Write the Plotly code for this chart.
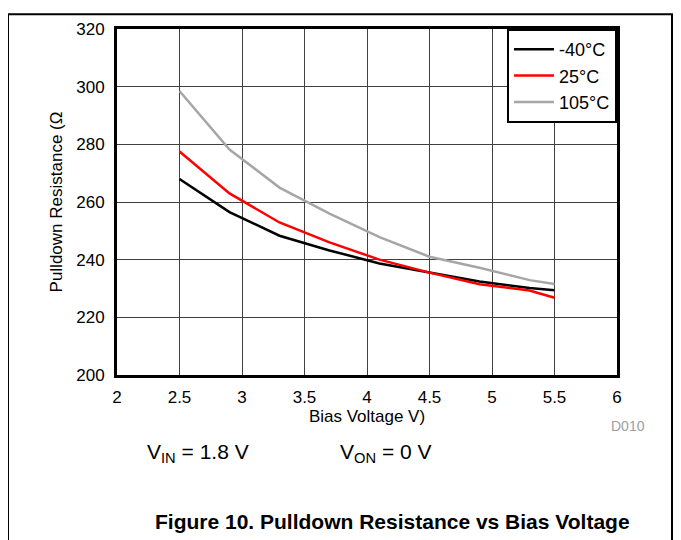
import plotly.graph_objects as go

bias_v = [2.5, 2.9, 3.3, 3.7, 4.1, 4.5, 4.9, 5.3, 5.5]
r_m40 = [268.0, 256.5, 248.3, 243.2, 238.7, 235.6, 232.4, 230.2, 229.4]
r_25 = [277.5, 263.0, 252.9, 246.0, 240.0, 235.5, 231.5, 229.3, 226.8]
r_105 = [298.5, 278.2, 265.0, 256.0, 247.8, 241.0, 237.2, 232.9, 231.6]
series_names = ["-40°C", "25°C", "105°C"]
series_colors = ["#000000", "#ff0000", "#a6a6a6"]
x_ticks = [2, 2.5, 3, 3.5, 4, 4.5, 5, 5.5, 6]
x_tick_labels = ["2", "2.5", "3", "3.5", "4", "4.5", "5", "5.5", "6"]
y_ticks = [200, 220, 240, 260, 280, 300, 320]

OFF = 8  # page body margin
W, H = 681 - OFF, 540 - OFF
L, R, T, B = 109, 64, 15, 165
PW, PH = W - L - R, H - T - B


def sx(x):
    """screen pixel x -> paper fraction"""
    return (x - OFF - L) / PW


def sy(y):
    """screen pixel y -> paper fraction"""
    return (H - B - (y - OFF)) / PH


FONT = "Arial, Liberation Sans, sans-serif"

fig = go.Figure()
for name, ys, col in zip(series_names, [r_m40, r_25, r_105], series_colors):
    fig.add_trace(go.Scatter(x=bias_v, y=ys, mode="lines", name=name,
                             line=dict(color=col, width=2.5)))

fig.update_layout(
    width=W, height=H,
    margin=dict(l=L, r=R, t=T, b=B, pad=0),
    paper_bgcolor="white", plot_bgcolor="white",
    font=dict(family=FONT, size=17, color="black"),
    showlegend=True,
    legend=dict(x=1, y=1, xanchor="right", yanchor="top",
                bgcolor="white", bordercolor="black", borderwidth=2,
                font=dict(size=18), tracegroupgap=0, itemwidth=40),
    xaxis=dict(range=[2, 6], tickvals=x_ticks, ticktext=x_tick_labels,
               showgrid=True, gridcolor="#404040", gridwidth=1,
               showline=True, linecolor="black", linewidth=3, mirror=True,
               ticks="", zeroline=False, tickfont=dict(size=17),
               ticklabelstandoff=5,
               title=dict(text="Bias Voltage V)", font=dict(size=17), standoff=4)),
    yaxis=dict(range=[200, 320], tickvals=y_ticks,
               showgrid=True, gridcolor="#404040", gridwidth=1,
               showline=True, linecolor="black", linewidth=3, mirror=True,
               ticks="", zeroline=False, tickfont=dict(size=17),
               ticklabelstandoff=6,
               title=dict(text="Pulldown Resistance (Ω", font=dict(size=17), standoff=10)),
)

# outer frame lines
fig.add_shape(type="line", xref="paper", yref="paper", x0=sx(0), x1=sx(700), y0=sy(8), y1=sy(8),
              line=dict(color="black", width=2))
fig.add_shape(type="line", xref="paper", yref="paper", x0=sx(8), x1=sx(8), y0=sy(8), y1=sy(560),
              line=dict(color="black", width=2))
fig.add_shape(type="line", xref="paper", yref="paper", x0=sx(672), x1=sx(672), y0=sy(8), y1=sy(560),
              line=dict(color="black", width=2))

fig.add_annotation(xref="paper", yref="paper", x=sx(628), y=sy(427), text="D010",
                   xanchor="center", yanchor="middle",
                   showarrow=False, font=dict(size=14, color="#a0a0a0"))
fig.add_annotation(xref="paper", yref="paper", x=sx(198), y=sy(454),
                   xanchor="center", yanchor="middle",
                   text="V<sub>IN</sub> = 1.8 V", showarrow=False, font=dict(size=21))
fig.add_annotation(xref="paper", yref="paper", x=sx(386), y=sy(454),
                   xanchor="center", yanchor="middle",
                   text="V<sub>ON</sub> = 0 V", showarrow=False, font=dict(size=21))
fig.add_annotation(xref="paper", yref="paper", x=sx(392), y=sy(524),
                   xanchor="center", yanchor="middle",
                   text="<b>Figure 10. Pulldown Resistance vs Bias Voltage</b>",
                   showarrow=False, font=dict(size=21))

fig.write_html("out.html")
